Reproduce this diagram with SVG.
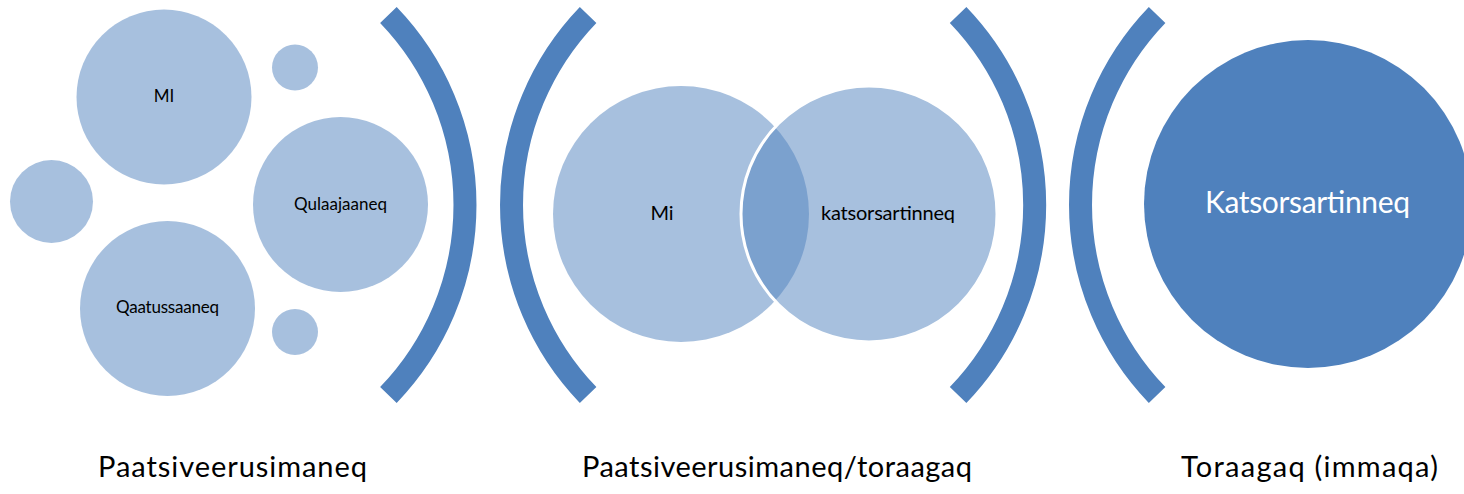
<svg xmlns="http://www.w3.org/2000/svg" width="1464" height="494" viewBox="0 0 1464 494">
<style>
.c{fill:#4F81BD;fill-opacity:0.5}
.dk{fill:#4F81BD}
.br{fill:none;stroke:#4F81BD;stroke-width:23;stroke-linecap:butt}
.t{font-family:Lato,"Open Sans","Liberation Sans",sans-serif;fill:#000;text-anchor:middle}
.s{font-size:17px}
.m{font-size:20px}
.w{font-size:30px;fill:#fff}
.b{font-size:29px}
</style>
<rect width="1464" height="494" fill="#fff"/>
<g id="brackets">
<path class="br" d="M388.4 15 A274 274 0 0 1 388.4 395"/>
<path class="br" d="M588.1 15 A274 274 0 0 0 588.1 395"/>
<path class="br" d="M958.1 15 A274 274 0 0 1 958.1 395"/>
<path class="br" d="M1157.1 15 A274 274 0 0 0 1157.1 395"/>
</g>
<g id="bubble-mi"><circle class="c" cx="164" cy="97" r="87.5"/><text class="t s" x="164" y="102">MI</text></g>
<g id="bubble-small-1"><circle class="c" cx="295" cy="67.5" r="23"/></g>
<g id="bubble-small-2"><circle class="c" cx="51.5" cy="201.5" r="41.5"/></g>
<g id="bubble-qulaajaaneq"><circle class="c" cx="340.5" cy="204.5" r="87.5"/><text class="t s" x="340.5" y="210" textLength="93">Qulaajaaneq</text></g>
<g id="bubble-qaatussaaneq"><circle class="c" cx="167.5" cy="308.5" r="87.5"/><text class="t s" x="167.5" y="313" textLength="103">Qaatussaaneq</text></g>
<g id="bubble-small-3"><circle class="c" cx="295" cy="332" r="23"/></g>
<g id="venn-mi"><circle class="c" cx="681" cy="214" r="128"/><text class="t m" x="662" y="220">Mi</text></g>
<g id="venn-katsorsartinneq"><circle class="c" cx="869" cy="214" r="128" stroke="#fff" stroke-width="3"/><text class="t m" x="888" y="220" textLength="134">katsorsartinneq</text></g>
<g id="katsorsartinneq"><circle class="dk" cx="1308" cy="204" r="164"/><text class="t w" x="1307.5" y="213" textLength="205">Katsorsartinneq</text></g>
<g id="labels">
<text class="t b" x="232.5" y="477" textLength="269">Paatsiveerusimaneq</text>
<text class="t b" x="777" y="477" textLength="390">Paatsiveerusimaneq/toraagaq</text>
<text class="t b" x="1309.5" y="477" textLength="257">Toraagaq (immaqa)</text>
</g>
</svg>
